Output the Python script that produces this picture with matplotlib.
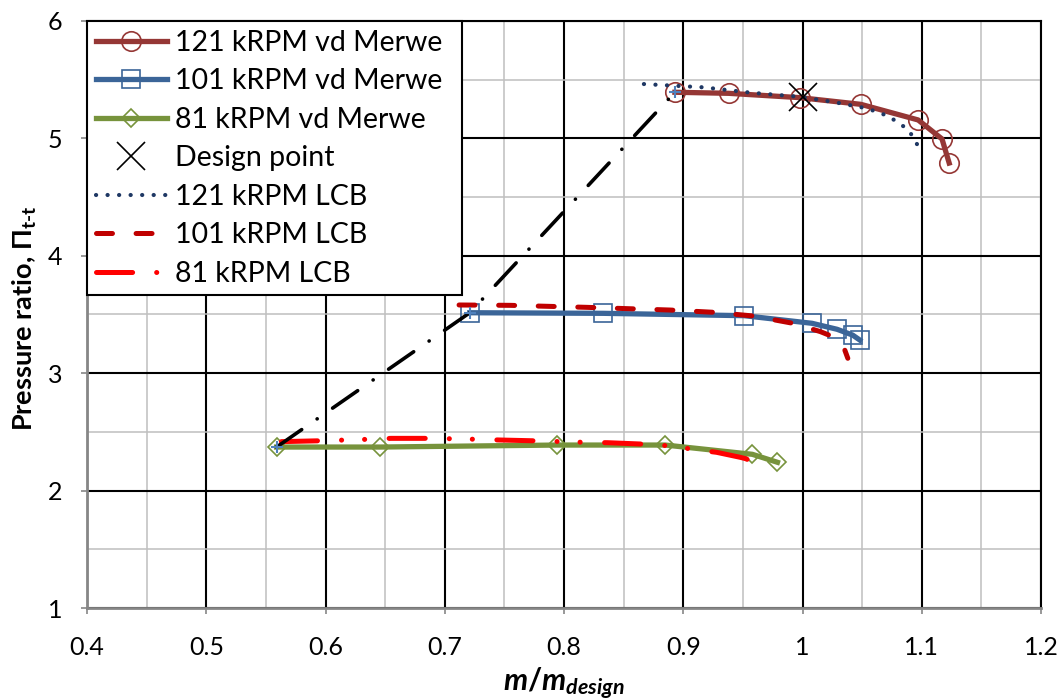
import matplotlib
matplotlib.use('Agg')
import matplotlib.pyplot as plt
import matplotlib.ticker as mticker

plt.rcParams['font.family'] = ['Lato', 'DejaVu Sans']
plt.rcParams['mathtext.fontset'] = 'custom'
plt.rcParams['mathtext.rm'] = 'Lato:bold'
plt.rcParams['mathtext.it'] = 'Lato:bold:italic'
plt.rcParams['mathtext.bf'] = 'Lato:bold'
plt.rcParams['mathtext.fallback'] = 'stixsans'
plt.rcParams['lines.scale_dashes'] = False

# vd Merwe speed lines (markers)
x121_vdm = [0.893, 0.938, 0.998, 1.049, 1.097, 1.117, 1.123]
y121_vdm = [5.393, 5.384, 5.347, 5.290, 5.157, 4.995, 4.790]
x101_vdm = [0.721, 0.833, 0.951, 1.008, 1.029, 1.042, 1.048]
y101_vdm = [3.515, 3.510, 3.490, 3.425, 3.374, 3.325, 3.283]
x81_vdm = [0.559, 0.646, 0.794, 0.885, 0.958, 0.979]
y81_vdm = [2.371, 2.371, 2.388, 2.388, 2.309, 2.241]

# LCB predictions
x121_lcb = [0.867, 0.897, 0.917, 0.956, 0.997, 1.026, 1.054, 1.072, 1.088, 1.094, 1.098]
y121_lcb = [5.463, 5.446, 5.435, 5.390, 5.355, 5.310, 5.256, 5.190, 5.080, 4.995, 4.907]
x101_lcb = [0.712, 0.755, 0.819, 0.889, 0.925, 0.959, 0.992, 1.015, 1.029, 1.035, 1.038]
y101_lcb = [3.581, 3.578, 3.561, 3.538, 3.519, 3.487, 3.425, 3.354, 3.297, 3.210, 3.127]
x81_lcb = [0.563, 0.598, 0.636, 0.655, 0.690, 0.727, 0.746, 0.780, 0.818, 0.837, 0.871,
           0.890, 0.908, 0.928, 0.948, 0.953, 0.959]
y81_lcb = [2.417, 2.425, 2.437, 2.445, 2.445, 2.437, 2.431, 2.423, 2.411, 2.408, 2.394,
           2.380, 2.352, 2.326, 2.283, 2.270, 2.226]

# surge line and design point
x_surge = [0.559, 0.721, 0.893]
y_surge = [2.371, 3.515, 5.393]
x_design = [1.0]
y_design = [5.35]

fig = plt.figure(figsize=(10.6, 7), dpi=100)
ax = fig.add_axes([87 / 1060, 1 - 608 / 700, (1041 - 87) / 1060, (608 - 21) / 700])

ax.plot(x121_vdm, y121_vdm, color='#953735', lw=3.8, marker='o', ms=14, mfc='none',
        mec='#953735', mew=1.2, label='121 kRPM vd Merwe', zorder=3)
ax.plot(x101_vdm, y101_vdm, color='#3B6598', lw=3.8, marker='s', ms=13, mfc='none',
        mec='#3B6598', mew=1.2, label='101 kRPM vd Merwe', zorder=3)
ax.plot(x81_vdm, y81_vdm, color='#77933C', lw=3.8, marker='D', ms=9.5, mfc='none',
        mec='#77933C', mew=1.2, label='81 kRPM vd Merwe', zorder=3)
ax.plot(x_design, y_design, ls='none', marker='x', ms=20, mew=1.2, color='black',
        label='Design point', zorder=6)
ax.plot(x121_lcb, y121_lcb, color='#1F3864', lw=3.0, dashes=(0.1, 8.2),
        dash_capstyle='round', label='121 kRPM LCB', zorder=4)
ax.plot(x101_lcb, y101_lcb, color='#C00000', lw=3.6, dashes=(11.5, 17),
        dash_capstyle='round', label='101 kRPM LCB', zorder=4)
ax.plot(x81_lcb, y81_lcb, color='#FF0000', lw=3.6, dashes=(26, 17.3, 0.1, 16.5, 0.1, 17.6),
        dash_capstyle='round', label='81 kRPM LCB', zorder=4)
ax.plot(x_surge, y_surge, color='black', lw=2.6, dashes=(22, 13.5, 0.1, 13.5),
        dash_capstyle='round', label='_nolegend_', zorder=4)
ax.plot(x_surge, y_surge, ls='none', marker='+', ms=8, mew=1.5, color='#4F81BD',
        label='_nolegend_', zorder=5)

ax.set_xlim(0.4, 1.2)
ax.set_ylim(1, 6)
ax.xaxis.set_major_locator(mticker.MultipleLocator(0.1))
ax.xaxis.set_minor_locator(mticker.MultipleLocator(0.05))
ax.yaxis.set_major_locator(mticker.MultipleLocator(1))
ax.yaxis.set_minor_locator(mticker.MultipleLocator(0.5))
ax.xaxis.set_major_formatter(mticker.FuncFormatter(lambda v, p: '{:g}'.format(round(v, 2))))
ax.yaxis.set_major_formatter(mticker.FuncFormatter(lambda v, p: '{:g}'.format(round(v, 2))))

ax.set_axisbelow(True)
ax.grid(which='major', color='black', lw=1.5)
ax.grid(which='minor', color='#BFBFBF', lw=1.1)
ax.tick_params(which='major', direction='out', length=4, width=1.2, color='#868686',
               labelsize=18)
ax.tick_params(axis='x', pad=16)
ax.tick_params(axis='y', pad=14)
ax.tick_params(which='minor', length=0)
for s in ['left', 'bottom']:
    ax.spines[s].set_color('#868686')
    ax.spines[s].set_linewidth(2)
for s in ['top', 'right']:
    ax.spines[s].set_color('black')
    ax.spines[s].set_linewidth(1.5)

ax.set_xlabel(r'$m/m_{design}$', fontsize=22)
ax.xaxis.set_label_coords(0.5, -0.098)
ax.set_ylabel(r'Pressure ratio, $\mathit{Π}_{\mathrm{t}\text{-}\mathrm{t}}$',
              fontsize=19.5, fontweight='bold')
ax.yaxis.set_label_coords(-0.05, 0.494)

leg = ax.legend(loc='upper left', bbox_to_anchor=(0, 0, (462 - 87) / 954, 1), mode='expand',
                borderaxespad=0, fancybox=False,
                edgecolor='black', framealpha=1, fontsize=20.5, handlelength=2.5,
                handletextpad=0.3, borderpad=0.3, labelspacing=0.44, numpoints=1)
leg.get_frame().set_linewidth(1.5)
leg.set_zorder(10)

fig.savefig('out.png', dpi=100)
